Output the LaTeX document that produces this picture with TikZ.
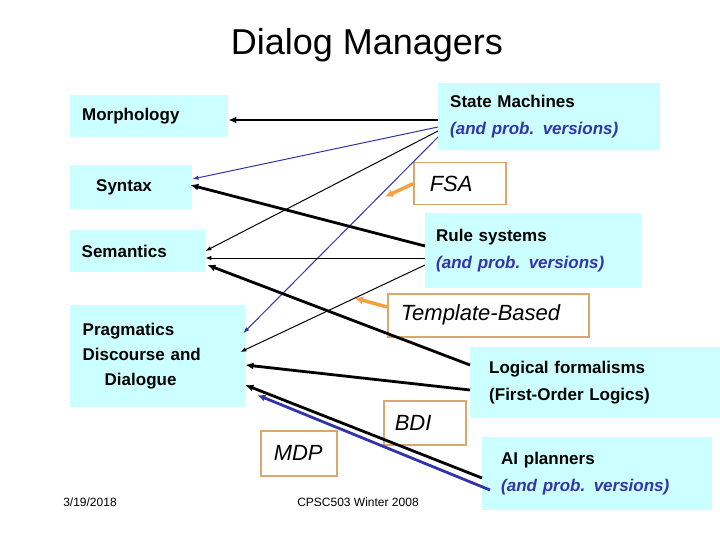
\documentclass[tikz,border=0pt]{standalone}
\usepackage{fontspec}
\setmainfont{Liberation Sans}
\usetikzlibrary{calc,arrows.meta}
\definecolor{boxc}{HTML}{CCFFFF}
\definecolor{ornc}{HTML}{D9A86C}
\definecolor{arrc}{HTML}{F4A040}
\definecolor{bluec}{HTML}{3333AA}
\begin{document}
\begin{tikzpicture}[x=1pt,y=-1pt,
  box/.style={fill=boxc,draw=none,anchor=north west,inner sep=0pt,font=\bfseries\fontsize{17}{27}\selectfont,align=left},
  obox/.style={draw=ornc,line width=1.5pt,fill=white,anchor=north west,inner sep=0pt,font=\itshape\fontsize{22}{24}\selectfont},
  thick arr/.style={-{Latex[length=8pt,width=7pt]},line width=2.8pt},
  thin arr/.style={-{Latex[length=6pt,width=4.5pt]},line width=1pt},
  oarr/.style={-{Latex[length=8pt,width=8pt]},line width=3.5pt,arrc}]
\useasboundingbox (0,0) rectangle (720,540);
\node[font=\fontsize{36}{40}\selectfont] (title) at (367,45) {Dialog Managers};
\node[box,minimum width=158pt,minimum height=42pt,text width=150pt] (mor) at (70,95) {\hspace*{8pt}Morphology};
\node[box,minimum width=122pt,minimum height=44pt,text width=110pt] (syn) at (70,165) {\hspace*{20pt}Syntax};
\node[box,minimum width=135pt,minimum height=42pt,text width=128pt] (sem) at (70,230) {\hspace*{8pt}Semantics};
\node[box,minimum width=175pt,minimum height=102pt,text width=166pt,font=\bfseries\fontsize{17}{25}\selectfont] (prag) at (70,305) {\hspace*{8pt}Pragmatics\\\hspace*{8pt}Discourse and\\\hspace*{30pt}Dialogue};
\node[box,minimum width=222pt,minimum height=67pt,text width=214pt] (sm) at (438,83) {\hspace*{8pt}State Machines\\\hspace*{8pt}{\itshape\color{bluec}(and prob. versions)}};
\node[obox,minimum width=92pt,minimum height=42pt,text width=80pt] (fsa) at (413,162) {\hspace*{10pt}FSA};
\node[box,minimum width=216pt,minimum height=75pt,text width=210pt] (rule) at (425,213) {\hspace*{8pt}Rule systems\\\hspace*{8pt}{\itshape\color{bluec}(and prob. versions)}};
\node[obox,minimum width=201pt,minimum height=43pt,text width=195pt] (tmp) at (387,293) {\hspace*{10pt}Template-Based};
\node[box,minimum width=250pt,minimum height=71pt,text width=244pt] (log) at (470,347) {\hspace*{16pt}Logical formalisms\\\hspace*{16pt}(First-Order Logics)};
\node[obox,minimum width=82pt,minimum height=44pt,text width=76pt] (bdi) at (383,400) {\hspace*{8pt}BDI};
\node[obox,minimum width=76pt,minimum height=45pt,text width=70pt] (mdp) at (260,430) {\hspace*{10pt}MDP};
\node[box,minimum width=230pt,minimum height=73pt,text width=224pt] (ai) at (482,437) {\hspace*{16pt}AI planners\\\hspace*{16pt}{\itshape\color{bluec}(and prob. versions)}};
\node[font=\fontsize{12}{14}\selectfont] (date) at (90,502) {3/19/2018};
\node[font=\fontsize{12}{14}\selectfont] (course) at (358,502) {CPSC503 Winter 2008};
% arrows
\draw[thick arr] ($(sm.north west)+(0,37)$) -- ($(mor.north east)+(0,25)$);
\draw[thin arr,bluec] ($(sm.north west)+(0,44)$) -- ($(syn.north east)+(0,14)$);
\draw[thin arr] ($(sm.north west)+(0,48)$) -- ($(sem.north east)+(0,21)$);
\draw[thin arr,bluec] ($(sm.north west)+(0,54)$) -- ($(prag.north east)+(-2,28)$);
\draw[thick arr] ($(rule.north west)+(0,33)$) -- ($(syn.north east)+(-2,20)$);
\draw[thin arr] ($(rule.north west)+(0,45)$) -- ($(sem.north east)+(0,28)$);
\draw[thin arr] ($(rule.north west)+(0,52)$) -- ($(prag.north east)+(-5,47)$);
\draw[thick arr] ($(log.north west)+(0,18)$) -- ($(sem.north east)+(2,35)$);
\draw[thick arr] ($(log.north west)+(0,43)$) -- ($(prag.north east)+(0,60)$);
\draw[thick arr] ($(ai.north west)+(0,41)$) -- ($(prag.north east)+(0,80)$);
\draw[thick arr,bluec] ($(ai.north west)+(8,53)$) -- ($(prag.north east)+(12,90)$);
\draw[oarr] (fsa.west) -- ++(-28,13);
\draw[oarr] ($(tmp.north west)+(0,14)$) -- ++(-32,-9);
\end{tikzpicture}
\end{document}
